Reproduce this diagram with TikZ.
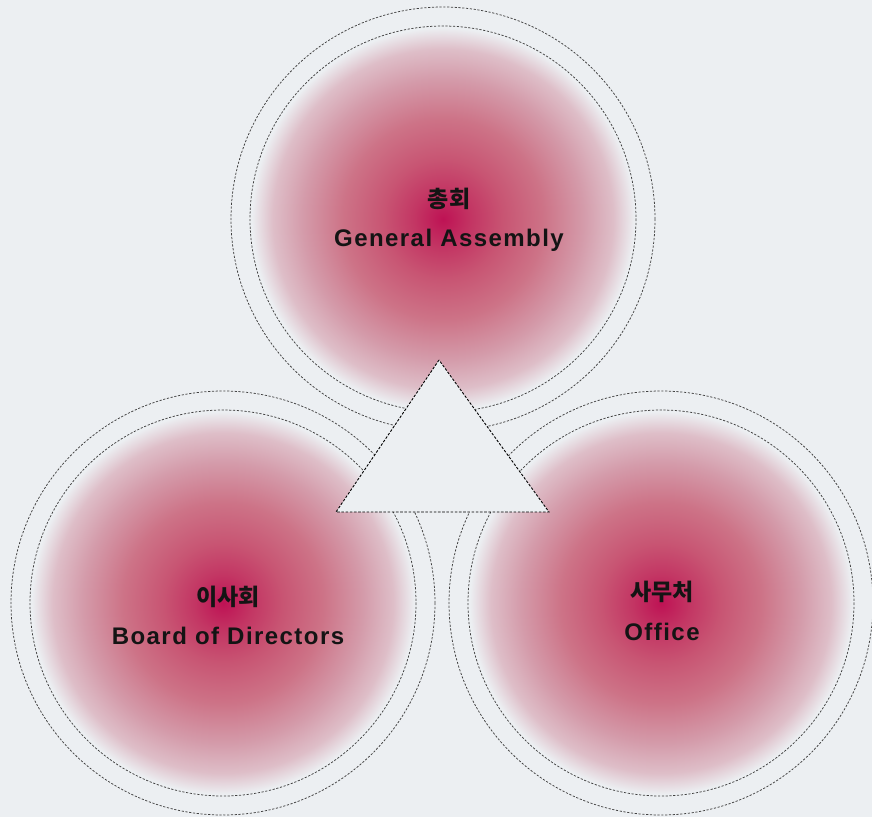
\documentclass[tikz,border=0pt]{standalone}
\usepackage{fontspec}
\newfontfamily\korfont{Noto Sans CJK KR}
\newfontfamily\engfont[LetterSpace=6]{Liberation Sans}
\definecolor{bgcol}{RGB}{236,239,242}
\definecolor{crim}{RGB}{190,18,84}
\definecolor{crima}{RGB}{195,55,100}
\definecolor{crimb}{RGB}{200,85,115}
\definecolor{crimc}{RGB}{205,115,135}
\definecolor{crimd}{RGB}{212,155,170}
\definecolor{crime}{RGB}{222,190,200}
\pgfdeclareradialshading{glowshade}{\pgfpoint{0bp}{0bp}}{%
  color(0bp)=(crim);
  color(3.8bp)=(crima);
  color(7.7bp)=(crimb);
  color(12.8bp)=(crimc);
  color(17.9bp)=(crimd);
  color(21.7bp)=(crime);
  color(24.4bp)=(bgcol);
  color(50bp)=(bgcol)}
\begin{document}
\begin{tikzpicture}[x=1pt,y=-1pt,
  glow/.style={shading=glowshade},
  ring/.style={draw=black!75, line width=0.75pt, dash pattern=on 2.2pt off 1.6pt},
  tri/.style={draw=black, fill=bgcol, line width=0.9pt, dash pattern=on 2.6pt off 1.6pt},
  kor/.style={font=\korfont\bfseries\fontsize{23}{26}\selectfont, text=black!92},
  eng/.style={font=\engfont\bfseries\fontsize{24}{28}\selectfont, text=black!92}
]
\fill[bgcol] (0,0) rectangle (872,817);
\useasboundingbox (0,0) rectangle (872,817);
% centers
\coordinate (T) at (443,219);
\coordinate (L) at (223,603);
\coordinate (R) at (661,603);
% glows
\foreach \c in {T,L,R}{
  \shade[glow] (\c) circle (196);
}
% rings
\foreach \c in {T,L,R}{
  \draw[ring] (\c) circle (212);
  \draw[ring] (\c) circle (193);
}
% triangle
\node[coordinate] (a) at (439,360) {};
\node[coordinate] (b) at (336,512) {};
\node[coordinate] (c) at (549,512) {};
\draw[tri] (a) -- (b) -- (c) -- cycle;
% labels
\node[kor] (tk) at (449,199) {총회};
\node[eng] (te) at (449,240) {General Assembly};
\node[kor] (lk) at (228,597) {이사회};
\node[eng] (le) at (228,636) {Board of Directors};
\node[kor] (rk) at (662,592) {사무처};
\node[eng] (re) at (662,632) {Office};
\end{tikzpicture}
\end{document}
